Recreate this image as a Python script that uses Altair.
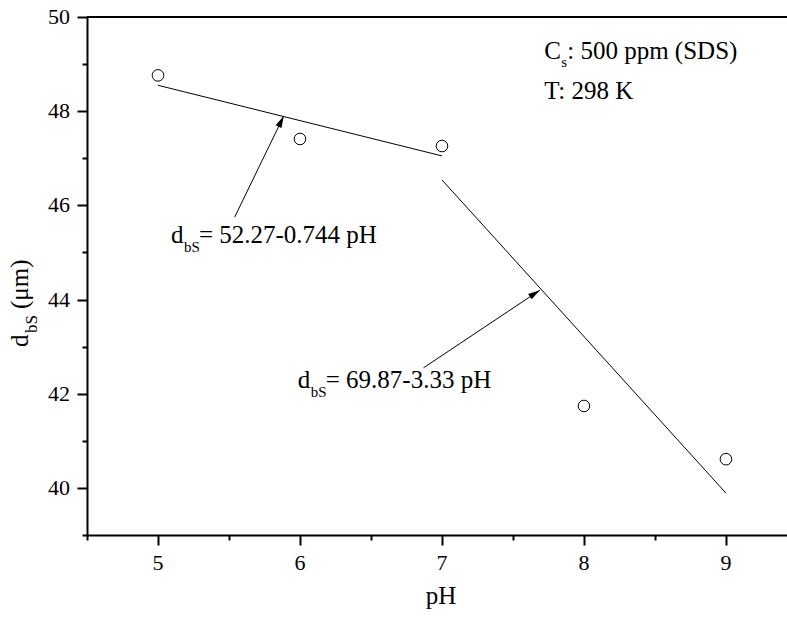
import altair as alt
import pandas as pd

# ---- data ----
ph = [5, 6, 7, 8, 9]
d_bs = [48.76, 47.41, 47.26, 41.74, 40.61]

fit1_ph = [5, 7]
fit1_d = [48.55, 47.05]
fit2_ph = [7, 9]
fit2_d = [46.54, 39.89]

arrow_x0 = [5.54, 6.87]
arrow_y0 = [45.75, 42.55]
arrow_x1 = [5.886, 7.69]
arrow_y1 = [47.90, 44.20]
arrow_angle = [25.9, 57.3]

x_major = [5, 6, 7, 8, 9]
x_minor = [4.5, 5.5, 6.5, 7.5, 8.5]
y_major = [40, 42, 44, 46, 48, 50]
y_minor = [39, 41, 43, 45, 47, 49]
x_labels = ["5", "6", "7", "8", "9"]
y_labels = ["40", "42", "44", "46", "48", "50"]

FONT = "Liberation Serif"
W, H = 700, 518
XDOM = [4.5, 9.43]
YDOM = [39, 50]

xs = alt.Scale(domain=XDOM, nice=False, zero=False)
ys = alt.Scale(domain=YDOM, nice=False, zero=False)

pts = pd.DataFrame({"ph": ph, "d": d_bs})

# major axes layer (points)
major = alt.Chart(pts).mark_point(
    shape="circle", filled=False, size=135, color="black", strokeWidth=1, opacity=1
).encode(
    x=alt.X("ph:Q", scale=xs, axis=alt.Axis(
        values=x_major, orient="bottom", tickSize=10, tickWidth=2,
        domainWidth=2, domainColor="black", tickColor="black",
        labels=False, grid=False, title=None)),
    y=alt.Y("d:Q", scale=ys, axis=alt.Axis(
        values=y_major, orient="left", tickSize=10, tickWidth=2,
        domainWidth=2, domainColor="black", tickColor="black",
        labels=False, grid=False, title=None)),
)

# minor ticks layer
minor = alt.Chart(pts).mark_point(opacity=0).encode(
    x=alt.X("ph:Q", scale=xs, axis=alt.Axis(
        values=x_minor, orient="bottom", tickSize=5, tickWidth=2, domain=False,
        labels=False, tickColor="black", grid=False, title=None)),
    y=alt.Y("d:Q", scale=ys, axis=alt.Axis(
        values=y_minor, orient="left", tickSize=5, tickWidth=2, domain=False,
        labels=False, tickColor="black", grid=False, title=None)),
)

# tick labels as text
xlab = alt.Chart(pd.DataFrame({"v": x_major, "t": x_labels})).mark_text(
    font=FONT, fontSize=22, align="center", baseline="alphabetic", color="black"
).encode(x=alt.X("v:Q", scale=xs, axis=None), y=alt.value(H + 35), text="t:N")

ylab = alt.Chart(pd.DataFrame({"v": y_major, "t": y_labels})).mark_text(
    font=FONT, fontSize=22, align="right", baseline="middle", color="black"
).encode(y=alt.Y("v:Q", scale=ys, axis=None), x=alt.value(-17), text="t:N")

def line_layer(xv, yv):
    df = pd.DataFrame({"ph": xv, "d": yv})
    return alt.Chart(df).mark_line(color="black", strokeWidth=1).encode(
        x=alt.X("ph:Q", scale=xs, axis=None),
        y=alt.Y("d:Q", scale=ys, axis=None),
    )

fit1 = line_layer(fit1_ph, fit1_d)
fit2 = line_layer(fit2_ph, fit2_d)

arr = pd.DataFrame({"x0": arrow_x0, "y0": arrow_y0, "x1": arrow_x1, "y1": arrow_y1,
                    "ang": arrow_angle})
arrow_shaft = alt.Chart(arr).mark_rule(color="black", strokeWidth=1).encode(
    x=alt.X("x0:Q", scale=xs, axis=None),
    y=alt.Y("y0:Q", scale=ys, axis=None),
    x2="x1:Q", y2="y1:Q",
)
arrow_head = alt.Chart(arr).mark_point(
    shape="M0,0L-0.27,1L0.27,1Z", filled=True, size=576, color="black", opacity=1,
    strokeWidth=0
).encode(
    x=alt.X("x1:Q", scale=xs, axis=None),
    y=alt.Y("y1:Q", scale=ys, axis=None),
    angle=alt.Angle("ang:Q", scale=None),
)

top_line = alt.Chart(pts).mark_rule(color="black", strokeWidth=2).encode(
    x=alt.value(0), x2=alt.value(W), y=alt.value(0)
)

def txt_data(x, y, s, size=25, dx=0, dy=0):
    df = pd.DataFrame({"x": [x], "y": [y], "t": [s]})
    return alt.Chart(df).mark_text(
        font=FONT, fontSize=size, dx=dx, dy=dy, align="left",
        baseline="alphabetic", color="black"
    ).encode(
        x=alt.X("x:Q", scale=xs, axis=None),
        y=alt.Y("y:Q", scale=ys, axis=None),
        text="t:N",
    )

def txt_px(x, y, s, size=25, angle=0, align="left"):
    df = pd.DataFrame({"t": [s]})
    return alt.Chart(df).mark_text(
        font=FONT, fontSize=size, align=align, baseline="alphabetic",
        color="black", angle=angle
    ).encode(x=alt.value(x), y=alt.value(y), text="t:N")

eq1 = [txt_data(5.091, 45.20, "d"),
       txt_data(5.091, 45.20, "bS", size=15, dx=13, dy=9),
       txt_data(5.091, 45.20, "= 52.27-0.744 pH", dx=28)]
eq2 = [txt_data(5.984, 42.12, "d"),
       txt_data(5.984, 42.12, "bS", size=15, dx=13, dy=9),
       txt_data(5.984, 42.12, "= 69.87-3.33 pH", dx=28)]
note = [txt_data(7.72, 49.11, "C"),
        txt_data(7.72, 49.11, "s", size=15, dx=17, dy=8),
        txt_data(7.72, 49.11, ": 500 ppm (SDS)", dx=23),
        txt_data(7.72, 48.26, "T: 298 K")]

titles = [txt_px(354, 587, "pH", align="center"),
          txt_px(-59, 330, "d", angle=270),
          txt_px(-50, 316, "bS", size=17, angle=270),
          txt_px(-59, 292, "(μm)", angle=270)]

chart = alt.layer(
    major, minor, fit1, fit2, arrow_shaft, arrow_head, top_line, xlab, ylab,
    *eq1, *eq2, *note, *titles
).resolve_axis(x="independent", y="independent").properties(
    width=W, height=H,
    autosize=alt.AutoSizeParams(type="none"),
    padding={"left": 87, "top": 17, "right": 0, "bottom": 82},
).configure_view(stroke=None).configure(background="white")

chart.save("out.html", embed_options={"renderer": "svg", "actions": False})
